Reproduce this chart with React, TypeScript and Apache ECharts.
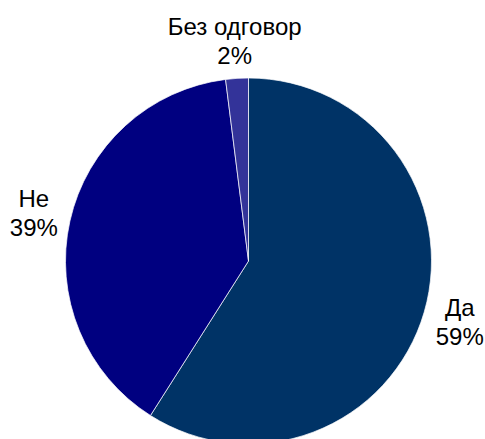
import React, { useEffect, useRef } from "react";
import * as echarts from "echarts";

const categories = ["Да", "Не", "Без одговор"];
const values = [59, 39, 2];
const colors = ["#003366", "#000080", "#333399"];

const CX = 248.5;
const CY = 261;
const R = 183;
const LABEL_R = 220;

export default function App() {
  const ref = useRef<HTMLDivElement>(null);
  useEffect(() => {
    if (!ref.current) return;
    const chart = echarts.init(ref.current, undefined, { renderer: "svg" });
    const total = values.reduce((a, b) => a + b, 0);
    chart.setOption({
      animation: false,
      backgroundColor: "#fff",
      series: [
        {
          type: "pie",
          center: [CX, CY],
          radius: R,
          startAngle: 90,
          clockwise: true,
          avoidLabelOverlap: false,
          data: categories.map((c, i) => ({
            name: c,
            value: values[i],
            itemStyle: { color: colors[i] },
          })),
          itemStyle: { borderColor: "#ffffff", borderWidth: 0.7 },
          label: {
            show: true,
            position: "inside",
            formatter: "{b}\n{c}%",
            fontFamily: "Liberation Sans, Arial, sans-serif",
            fontSize: 24,
            lineHeight: 29,
            color: "#000",
            align: "center",
            verticalAlign: "middle",
          },
          labelLine: { show: false },
          labelLayout: (params: any) => {
            const i = params.dataIndex;
            let before = 0;
            for (let k = 0; k < i; k++) before += values[k];
            const mid = ((before + values[i] / 2) / total) * Math.PI * 2;
            return {
              x: CX + LABEL_R * Math.sin(mid),
              y: CY - LABEL_R * Math.cos(mid),
              align: "center",
              verticalAlign: "middle",
            };
          },
          emphasis: { disabled: true },
        },
      ],
    });
    return () => chart.dispose();
  }, []);
  return (
    <div
      ref={ref}
      style={{ position: "fixed", left: 0, top: 0, width: 485, height: 439 }}
    />
  );
}
